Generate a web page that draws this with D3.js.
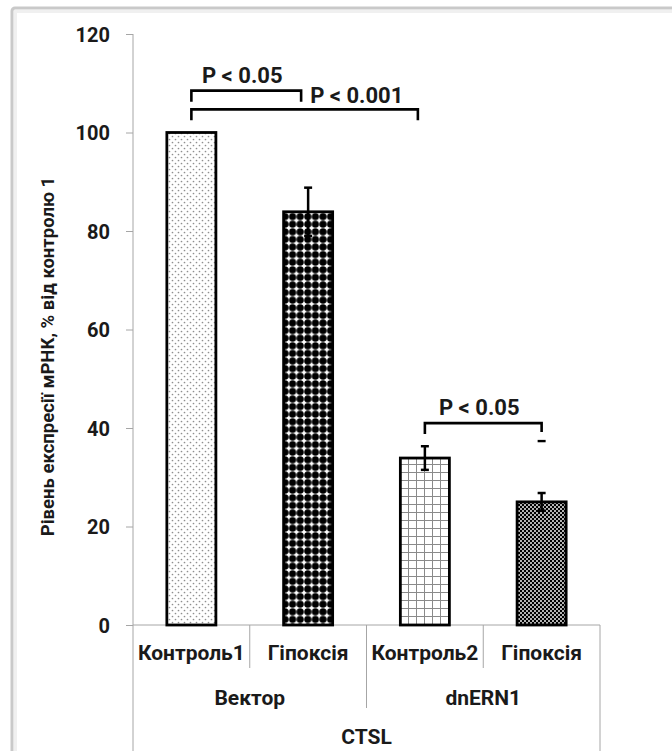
<!DOCTYPE html>
<meta charset="utf-8">
<style>
  html, body { margin: 0; background: #fff; overflow: hidden; }
  svg { display: block; }
  text { font-family: Roboto, "DejaVu Sans", sans-serif; font-weight: bold; fill: #1a1a1a; }
</style>
<svg id="mainsvg" width="672" height="751"></svg>
<script src="https://cdn.jsdelivr.net/npm/d3@7"></script>
<script>

// data
const categories = ["Контроль1", "Гіпоксія", "Контроль2", "Гіпоксія"]
const groups = ["Вектор", "dnERN1"]
const gene = "CTSL"
const values = [100, 83.9, 33.9, 25.0]
const errors = [0, 4.9, 2.4, 1.8]
const yTicks = [0, 20, 40, 60, 80, 100, 120]
const yTitle = "Рівень експресії мРНК, % від контролю 1"
const brackets = [
  { from: 0, to: 1, level: 108.5, label: "P < 0.05" },
  { from: 0, to: 2, level: 104.7, label: "P < 0.001" },
  { from: 2, to: 3, level: 41, label: "P < 0.05" }
]

const W = 672, H = 751
const plotL = 133, plotR = 600, plotT = 34, plotB = 625
const gridColor = "#a6a6a6"

const svg = d3.select("#mainsvg")

// chart area frame
svg.append("rect")
  .attr("x", 12).attr("y", 8).attr("width", 720).attr("height", 800)
  .attr("rx", 3)
  .attr("fill", "#fff").attr("stroke", "#c9c9c9").attr("stroke-width", 3)
svg.append("rect")
  .attr("x", 15.5).attr("y", 11.5).attr("width", 720).attr("height", 800)
  .attr("fill", "none").attr("stroke", "#f0f0f0").attr("stroke-width", 3)

// fill patterns
const defs = svg.append("defs")

let p = defs.append("pattern").attr("id", "pat0").attr("patternUnits", "userSpaceOnUse")
  .attr("width", 6).attr("height", 6)
p.append("rect").attr("width", 6).attr("height", 6).attr("fill", "#fff")
p.append("circle").attr("cx", 1.5).attr("cy", 1.5).attr("r", 0.85).attr("fill", "#8f8f8f")
p.append("circle").attr("cx", 4.5).attr("cy", 4.5).attr("r", 0.85).attr("fill", "#8f8f8f")

p = defs.append("pattern").attr("id", "pat1").attr("patternUnits", "userSpaceOnUse")
  .attr("width", 7.6).attr("height", 7.6)
p.append("rect").attr("width", 7.6).attr("height", 7.6).attr("fill", "#fff")
p.append("circle").attr("cx", 3.8).attr("cy", 3.8).attr("r", 3.6).attr("fill", "#000")

p = defs.append("pattern").attr("id", "pat2").attr("patternUnits", "userSpaceOnUse")
  .attr("width", 8).attr("height", 8)
p.append("rect").attr("width", 8).attr("height", 8).attr("fill", "#fff")
p.append("path").attr("d", "M0,0.5H8M0.5,0V8").attr("stroke", "#8a8a8a").attr("stroke-width", 1)

p = defs.append("pattern").attr("id", "pat3").attr("patternUnits", "userSpaceOnUse")
  .attr("width", 4).attr("height", 4)
p.append("rect").attr("width", 4).attr("height", 4).attr("fill", "#000")
p.append("circle").attr("cx", 1).attr("cy", 1).attr("r", 0.95).attr("fill", "#fff")
p.append("circle").attr("cx", 3).attr("cy", 3).attr("r", 0.95).attr("fill", "#fff")

// scales
const idx = d3.range(categories.length)
const x = d3.scaleBand().domain(idx).range([plotL, plotR]).paddingInner(0.58).paddingOuter(0.29)
const slot = d3.scaleBand().domain(idx).range([plotL, plotR])
const y = d3.scaleLinear().domain([0, 120]).range([plotB, plotT])

// y axis
const yAxis = svg.append("g")
  .attr("transform", `translate(${plotL},0)`)
  .call(d3.axisLeft(y).tickValues(yTicks).tickSize(7).tickPadding(16).tickSizeOuter(0))
yAxis.select(".domain").remove()
yAxis.selectAll(".tick line").attr("stroke", gridColor)
yAxis.selectAll(".tick text").style("font-size", "20px").attr("dy", "0.35em")

svg.append("line")
  .attr("x1", plotL).attr("x2", plotL).attr("y1", plotT).attr("y2", H)
  .attr("stroke", gridColor)

svg.append("text")
  .attr("transform", `translate(54,${(plotT + plotB) / 2 + 27}) rotate(-90)`)
  .attr("text-anchor", "middle")
  .style("font-size", "18.5px")
  .text(yTitle)

// category axis (three levels)
const cat = svg.append("g").attr("stroke", gridColor)
cat.append("line").attr("x1", plotL).attr("x2", plotR).attr("y1", plotB).attr("y2", plotB)
cat.append("line").attr("x1", plotR).attr("x2", plotR).attr("y1", plotB).attr("y2", H)
;[1, 3].forEach(i => {
  cat.append("line").attr("x1", slot(i)).attr("x2", slot(i)).attr("y1", plotB).attr("y2", 668)
})
cat.append("line").attr("x1", slot(2)).attr("x2", slot(2)).attr("y1", plotB).attr("y2", 708)

svg.append("g").selectAll("text")
  .data(categories)
  .join("text")
    .attr("x", (d, i) => slot(i) + slot.bandwidth() / 2)
    .attr("y", 660)
    .attr("text-anchor", "middle")
    .style("font-size", "21px")
    .text(d => d)

svg.append("g").selectAll("text")
  .data(groups)
  .join("text")
    .attr("x", (d, i) => slot(i * 2) + slot.bandwidth())
    .attr("y", 705)
    .attr("text-anchor", "middle")
    .style("font-size", "21px")
    .text(d => d)

svg.append("text")
  .attr("x", (plotL + plotR) / 2)
  .attr("y", 744)
  .attr("text-anchor", "middle")
  .style("font-size", "21px")
  .text(gene)

// bars
svg.append("g").selectAll("rect")
  .data(values)
  .join("rect")
    .attr("x", (d, i) => x(i))
    .attr("y", d => y(d))
    .attr("width", x.bandwidth())
    .attr("height", d => y(0) - y(d))
    .attr("fill", (d, i) => `url(#pat${i})`)
    .attr("stroke", "#000")
    .attr("stroke-width", 2.8)

// error bars
const eb = svg.append("g").attr("stroke", "#000").attr("stroke-width", 2.5)
values.forEach((v, i) => {
  if (!errors[i]) return
  const cx = x(i) + x.bandwidth() / 2
  eb.append("line").attr("x1", cx).attr("x2", cx).attr("y1", y(v + errors[i])).attr("y2", y(v - errors[i]))
  ;[v + errors[i], v - errors[i]].forEach(e => {
    eb.append("line").attr("x1", cx - 4).attr("x2", cx + 4).attr("y1", y(e)).attr("y2", y(e))
  })
})

// significance brackets
const mid = i => x(i) + x.bandwidth() / 2
const br = svg.append("g")
brackets.forEach((b, k) => {
  const x1 = mid(b.from), x2 = mid(b.to) - (k < 2 ? 7 : 0), yy = y(b.level)
  br.append("path")
    .attr("d", `M${x1},${yy + 11}V${yy}H${x2}V${yy + (k === 2 ? 9 : 11)}`)
    .attr("fill", "none").attr("stroke", "#000").attr("stroke-width", 2.6)
  if (k === 2) {
    br.append("line").attr("x1", x2 - 4).attr("x2", x2 + 4).attr("y1", yy + 18).attr("y2", yy + 18)
      .attr("stroke", "#000").attr("stroke-width", 2.4)
  }
  const t = br.append("text").style("font-size", "22px").text(b.label)
  if (k === 1) {
    t.attr("x", mid(brackets[0].to) + 2).attr("y", yy - 6).attr("text-anchor", "start")
  } else {
    t.attr("x", (x1 + x2) / 2 - 4).attr("y", yy - 8).attr("text-anchor", "middle")
  }
})

</script>
